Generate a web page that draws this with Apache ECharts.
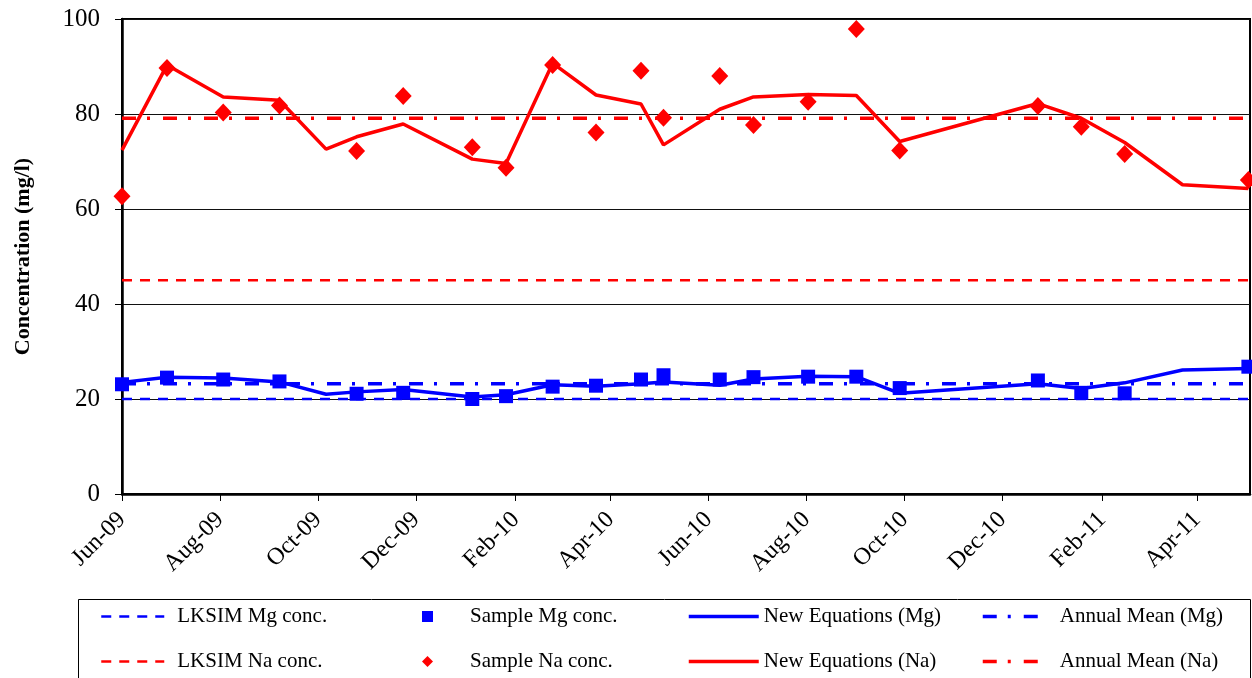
<!DOCTYPE html>
<html>
<head>
<meta charset="utf-8">
<script src="https://cdn.jsdelivr.net/npm/echarts@6/dist/echarts.min.js"></script>
<style>
  html, body { margin: 0; padding: 0; background: #fff; }
  #div1 { width: 1252px; height: 678px; }
</style>
</head>
<body>
<div id="div1"></div>
<script>
// x axis
var axisStart = '2009-06-01';
var axisEnd = '2011-05-04';
var tickDates = ['2009-06-01', '2009-08-01', '2009-10-01', '2009-12-01', '2010-02-01', '2010-04-01',
  '2010-06-01', '2010-08-01', '2010-10-01', '2010-12-01', '2011-02-01', '2011-04-01'];
var tickLabels = ['Jun-09', 'Aug-09', 'Oct-09', 'Dec-09', 'Feb-10', 'Apr-10',
  'Jun-10', 'Aug-10', 'Oct-10', 'Dec-10', 'Feb-11', 'Apr-11'];

// sampling dates
var sampleDates = ['2009-06-01', '2009-06-29', '2009-08-03', '2009-09-07', '2009-10-25', '2009-11-23',
  '2010-01-05', '2010-01-26', '2010-02-24', '2010-03-23', '2010-04-20', '2010-05-04', '2010-06-08',
  '2010-06-29', '2010-08-02', '2010-09-01', '2010-09-28', '2010-12-23', '2011-01-19', '2011-02-15',
  '2011-05-03'];
var sampleMg = [23.1, 24.5, 24.1, 23.7, 21.1, 21.3, 20.0, 20.6, 22.6, 22.8, 24.1, 25.0, 24.1,
  24.6, 24.7, 24.7, 22.3, 23.9, 21.3, 21.2, 26.8];
var sampleNa = [62.7, 89.7, 80.3, 81.8, 72.2, 83.8, 73.0, 68.7, 90.3, 76.1, 89.1, 79.2, 88.0,
  77.7, 82.6, 97.9, 72.3, 81.7, 77.3, 71.6, 66.1];

// new equations
var modelDates = ['2009-06-01', '2009-06-29', '2009-08-03', '2009-09-07', '2009-10-06', '2009-10-25',
  '2009-11-23', '2010-01-05', '2010-01-26', '2010-02-24', '2010-03-23', '2010-04-20', '2010-05-04',
  '2010-06-08', '2010-06-29', '2010-08-02', '2010-09-01', '2010-09-28', '2010-12-23', '2011-01-19',
  '2011-02-15', '2011-03-23', '2011-05-03'];
var modelMg = [23.5, 24.6, 24.4, 23.6, 21.0, 21.5, 22.0, 20.4, 20.9, 23.0, 22.7, 23.2, 23.6,
  22.9, 24.2, 24.8, 24.7, 21.2, 23.2, 22.2, 23.4, 26.1, 26.4];
var modelNa = [72.4, 90.3, 83.6, 82.9, 72.6, 75.2, 77.9, 70.5, 69.6, 90.7, 84.0, 82.1, 73.5,
  81.0, 83.6, 84.1, 83.9, 74.2, 82.2, 79.1, 74.0, 65.1, 64.3];

// constant levels
var lksimMg = 20;
var lksimNa = 45;
var annualMg = 23.2;
var annualNa = 79.1;

(function () {
  // day number counted from axisStart, so the x axis is a plain value axis
  var t0 = Date.UTC(2009, 5, 1)
  function toDay(s) {
    var p = s.split('-')
    return Math.round((Date.UTC(+p[0], +p[1] - 1, +p[2]) - t0) / 86400000)
  }
  function pairs(dates, vals) {
    var out = []
    for (var i = 0; i < dates.length; i++) out.push([toDay(dates[i]), vals[i]])
    return out
  }
  function flat(v) {
    return [[toDay(axisStart), v], [toDay(axisEnd), v]]
  }

  var tickDays = tickDates.map(toDay)
  var font = 'Liberation Serif, Times New Roman, serif'
  var blue = '#0000ff'
  var red = '#ff0000'
  var dashA = [10, 8]
  var dashB = [14, 11, 3, 13]
  var legendText = { fontSize: 21, lineHeight: 20, color: '#000', fontFamily: font }
  // line legends: hide the circle ECharts puts on the line icon
  var noDot = { color: 'transparent', borderWidth: 0 }

  var mCharts1 = echarts.init(document.getElementById('div1'))
  var option1 = {
    animation: false,
    textStyle: { fontFamily: font },
    grid: {
      left: 122, top: 19, right: 2, bottom: 184,
      outerBoundsMode: 'none',
      show: true, borderColor: '#000', borderWidth: 2
    },
    xAxis: {
      type: 'value',
      min: toDay(axisStart),
      max: toDay(axisEnd),
      axisLine: { lineStyle: { color: '#000', width: 2.5 } },
      axisTick: { show: true, length: 7, customValues: tickDays, lineStyle: { color: '#000' } },
      splitLine: { show: false },
      axisLabel: {
        customValues: tickDays,
        rotate: 45,
        margin: 22,
        color: '#000',
        fontSize: 24,
        fontFamily: font,
        formatter: function (v) {
          var i = tickDays.indexOf(v)
          return i >= 0 ? tickLabels[i] : ''
        }
      }
    },
    yAxis: {
      type: 'value',
      min: 0, max: 100, interval: 20,
      name: 'Concentration (mg/l)',
      nameLocation: 'middle',
      nameGap: 88,
      nameTextStyle: { color: '#000', fontSize: 22, fontWeight: 'bold', fontFamily: font },
      axisLine: { show: true, lineStyle: { color: '#000', width: 2.5 } },
      axisTick: { show: true, length: 7, lineStyle: { color: '#000' } },
      axisLabel: { color: '#000', fontSize: 25, margin: 22, fontFamily: font },
      splitLine: { lineStyle: { color: '#111', width: 1 } }
    },
    legend: [
      { orient: 'vertical', left: 100, top: 606, padding: 0, itemWidth: 63, itemHeight: 14, itemGap: 24,
        itemStyle: noDot, lineStyle: { width: 2.5 },
        textStyle: Object.assign({ padding: [0, 0, 0, 8] }, legendText),
        data: ['LKSIM Mg conc.', 'LKSIM Na conc.'] },
      { orient: 'vertical', left: 422, top: 606, padding: 0, itemWidth: 11, itemHeight: 11, itemGap: 24,
        textStyle: Object.assign({ padding: [0, 0, 0, 32] }, legendText),
        data: ['Sample Mg conc.', 'Sample Na conc.'] },
      { orient: 'vertical', left: 687, top: 606, padding: 0, itemWidth: 70, itemHeight: 14, itemGap: 24,
        itemStyle: noDot, lineStyle: { width: 3.5 },
        textStyle: legendText,
        data: ['New Equations (Mg)', 'New Equations (Na)'] },
      { orient: 'vertical', left: 981, top: 606, padding: 0, itemWidth: 57, itemHeight: 14, itemGap: 24,
        itemStyle: noDot, lineStyle: { width: 3.5 },
        textStyle: Object.assign({ padding: [0, 0, 0, 15] }, legendText),
        data: ['Annual Mean (Mg)', 'Annual Mean (Na)'] }
    ],
    graphic: [{
      type: 'rect', left: 76, top: 597, silent: true,
      shape: { width: 1172, height: 100 },
      style: { fill: 'none', stroke: '#000', lineWidth: 1 }
    }],
    series: [
      { name: 'LKSIM Mg conc.', type: 'line', symbol: 'none', data: flat(lksimMg),
        itemStyle: { color: blue }, lineStyle: { color: blue, width: 2.5, type: dashA } },
      { name: 'Annual Mean (Mg)', type: 'line', symbol: 'none', data: flat(annualMg),
        itemStyle: { color: blue }, lineStyle: { color: blue, width: 3.5, type: dashB } },
      { name: 'New Equations (Mg)', type: 'line', symbol: 'none', data: pairs(modelDates, modelMg),
        itemStyle: { color: blue }, lineStyle: { color: blue, width: 3.5 } },
      { name: 'Sample Mg conc.', type: 'scatter', symbol: 'rect', symbolSize: 14, z: 5,
        data: pairs(sampleDates, sampleMg), itemStyle: { color: blue, opacity: 1 } },
      { name: 'LKSIM Na conc.', type: 'line', symbol: 'none', data: flat(lksimNa),
        itemStyle: { color: red }, lineStyle: { color: red, width: 2.5, type: dashA } },
      { name: 'Annual Mean (Na)', type: 'line', symbol: 'none', data: flat(annualNa),
        itemStyle: { color: red }, lineStyle: { color: red, width: 3.5, type: dashB } },
      { name: 'New Equations (Na)', type: 'line', symbol: 'none', data: pairs(modelDates, modelNa),
        itemStyle: { color: red }, lineStyle: { color: red, width: 3.5 } },
      { name: 'Sample Na conc.', type: 'scatter', symbol: 'diamond', symbolSize: [17, 18], z: 5,
        data: pairs(sampleDates, sampleNa), itemStyle: { color: red, opacity: 1 } }
    ]
  }
  mCharts1.setOption(option1)
})();
</script>
</body>
</html>
